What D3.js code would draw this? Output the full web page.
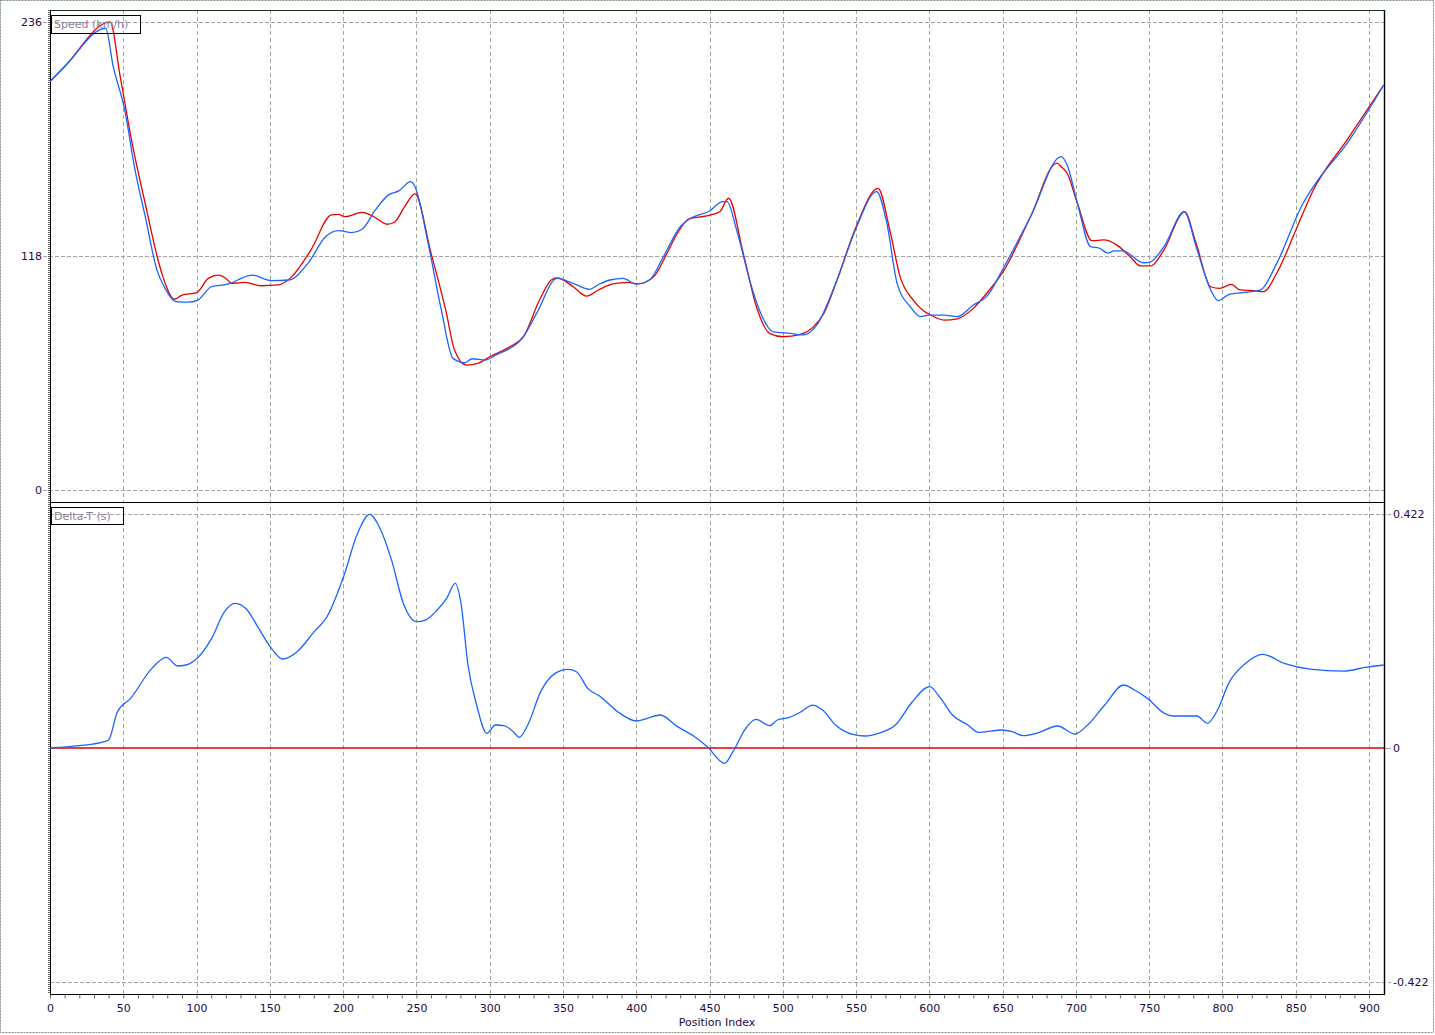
<!DOCTYPE html>
<html><head><meta charset="utf-8">
<script src="https://cdn.jsdelivr.net/npm/d3@7"></script>
<style>
html,body{margin:0;padding:0;background:#fff;}
svg text{font-family:"DejaVu Sans",Verdana,sans-serif;}
</style></head>
<body><svg id="c" width="1435" height="1035"></svg>
<script>
// ---- data ----
const redIdx = [0,10,41,48,56,66,73,77,85,90,100,108,115,120,124,133,144,156,165,178,192,197,201,213,221,230,235,242,249,260,270,276,284,292,300,314,323,334,342,346,357,366,375,384,394,401,412,421,428,436,448,457,463,473,482,491,500,512,521,528,537,550,565,573,580,589,596,601,610,619,630,641,651,669,687,690,694,701,711,719,728,737,744,751,760,774,782,792,798,806,812,821,828,837,851,862,885,910];
const redSpeed = [206,213.5,236,208,175,141,118,107.6,96.2,98.3,99.5,106.7,108.4,106.7,104.2,104.7,103,103.4,107.6,121,138.7,139,137.8,140,137.8,134,135,142.9,149.3,119.4,90.8,70.6,63,63.9,67.2,72.3,77.3,95.8,105.9,107,102.5,97.8,101.2,103.9,104.7,103.9,107.6,119.4,129.4,136.7,138.2,140.3,147.1,119.4,92.4,79,77.3,78.5,82.4,89.1,105.9,132.8,152.1,131.1,107.6,95.8,90.4,88.2,85.7,86.3,91.6,100.9,110.9,137.8,164.8,163,159.7,144.6,125.7,126.1,123.5,117.6,113,113,121,140.3,124.4,102.5,101.7,103.7,100.9,100.5,100,109.3,132.8,151.3,176.5,204.2];
const blueIdx = [0,10,38,43,51,58,65,73,78.5,86,94,101,110,122,128,138,151,163,176,188,197,206,213,222,231,238,246,249,258,267,275,283,288,297,304,323,332,346,357,368,375,382,391,400,409,418.5,430,437,450,459,462,468.5,478,484,493.5,505,514,523,537,550,564,571,578,587,594,600,610,619,630,639,651,669,690,694,701,710,716,722,726,732,746,751,760,774,782,792,797,805,814,826,837,855,862,885,910];
const blueSpeed = [206,213.5,232.8,214,191.6,161.4,137.8,110.9,101.7,95,94.7,95.8,102.5,103.9,105.9,108.4,105.6,105.9,114.3,127.7,130.8,129.8,131.5,141.2,148.8,150.8,155.5,153,124.4,90.8,66.4,64.2,66.2,65.6,68,77.3,89.1,106.7,104.2,101.2,103.9,105.9,106.7,103.9,105.9,117.6,132.8,137,140.7,145.4,145.4,131.1,104.2,90.8,79.8,79,78.2,83,105.9,132,150.4,134.5,104.2,92.4,87.4,88.2,88.2,87.4,93.3,97.5,112.6,137.8,168.1,163.9,144.6,122.7,121.9,119.4,120.6,120.6,114.6,115.1,122.7,140.3,122.7,100.9,95.5,98.8,99.5,100.9,114.3,144.6,153,174.8,204.2];
const deltaIdx = [0,20,37,40,46,55,69.5,79.4,87,92.8,100.4,110.3,119.1,126,133.6,142.4,151.1,158.7,168.6,180.3,189,200.7,209.4,218.1,225.2,232.7,241.5,250.2,256.1,263.6,270.6,276.5,280.6,285.2,291.1,298.1,303.9,309.7,316.1,320.2,326,334.8,344.7,353.4,359.2,366.9,375.6,387.3,400.1,407.6,416.4,428.1,439.8,448.5,460.2,466,474.7,481.7,491.1,496.3,503.9,512.6,520.2,527.2,536,547.6,556.4,565.1,576.8,588.4,600.1,607.7,615.8,626.3,633.3,649.6,656.6,664.2,673,687.6,699.2,708,719.6,732.5,740,748.8,760.4,766.3,782.6,789.7,796.6,804.2,815.8,827.5,842.1,859.6,882.9,897.5,910];
const deltaT = [0,0.0042,0.0114,0.0144,0.0655,0.0896,0.1436,0.1635,0.1479,0.1497,0.1617,0.1977,0.2458,0.2608,0.2518,0.2158,0.1797,0.1605,0.1737,0.2098,0.2368,0.3119,0.384,0.4213,0.396,0.342,0.2578,0.2278,0.2308,0.247,0.2698,0.2969,0.2578,0.1497,0.0775,0.0264,0.0415,0.0403,0.0294,0.0192,0.0415,0.1016,0.1346,0.1418,0.1376,0.1076,0.0926,0.0655,0.0487,0.0535,0.0595,0.0385,0.0204,0.0024,-0.0276,-0.0066,0.0355,0.0517,0.0403,0.0505,0.0547,0.0655,0.0775,0.0685,0.0415,0.0246,0.0216,0.0264,0.0415,0.0835,0.1106,0.0895,0.0595,0.0415,0.0282,0.0325,0.0294,0.0222,0.0264,0.0397,0.0252,0.0415,0.0775,0.1136,0.1046,0.0895,0.0625,0.0577,0.0577,0.0445,0.0685,0.1166,0.1527,0.1689,0.1527,0.1424,0.1388,0.1454,0.1497];
const speedTicks = [236,118,0];
const speedTickLabels = ["236","118","0"];
const deltaTicks = [0.422,0,-0.422];
const deltaTickLabels = ["0.422","0","-0.422"];
const xMajorTicks = [0,50,100,150,200,250,300,350,400,450,500,550,600,650,700,750,800,850,900];
const speedTitle = "Speed (km/h)";
const deltaTitle = "Delta-T (s)";
const xTitle = "Position Index";

// ---- layout ----
const L = 50, R = 1384, T1 = 10, B1 = 502, T2 = 502, B2 = 994;
const svg = d3.select("#c");
const x = d3.scaleLinear().domain([0, 910.2]).range([L, R]);
const y1 = d3.scaleLinear().domain([-6, 242]).range([B1, T1]);
const y2 = d3.scaleLinear().domain([-0.4437, 0.4437]).range([B2, T2]);
const tickCol = "#1c0c44";
const gridV = "#9aab9a", gridH = "#aaa2aa";

// outer border
svg.append("rect").attr("x",0.5).attr("y",0.5).attr("width",1433).attr("height",1032)
  .attr("fill","none").attr("stroke","#7f907f").attr("stroke-dasharray","2,1");

// vertical grid lines
svg.append("g").selectAll("line").data(xMajorTicks.filter(d=>d>0)).join("line")
  .attr("x1",d=>Math.round(x(d))+0.5).attr("x2",d=>Math.round(x(d))+0.5)
  .attr("y1",T1).attr("y2",B2)
  .attr("stroke",gridV).attr("stroke-dasharray","4,3");

// horizontal grid lines (extend a little left/right as tick marks)
svg.append("g").selectAll("line").data(speedTicks).join("line")
  .attr("x1",L-7).attr("x2",R)
  .attr("y1",d=>Math.round(y1(d))+0.5).attr("y2",d=>Math.round(y1(d))+0.5)
  .attr("stroke",gridH).attr("stroke-dasharray","4,2");
svg.append("g").selectAll("line").data(deltaTicks.filter(d=>d!==0)).join("line")
  .attr("x1",L).attr("x2",R+7)
  .attr("y1",d=>Math.round(y2(d))+0.5).attr("y2",d=>Math.round(y2(d))+0.5)
  .attr("stroke",gridH).attr("stroke-dasharray","4,2");
svg.append("line").attr("x1",R).attr("x2",R+7)
  .attr("y1",Math.round(y2(0))+0.5).attr("y2",Math.round(y2(0))+0.5).attr("stroke",gridH);

// tick labels
svg.append("g").selectAll("text").data(speedTicks).join("text")
  .attr("x",L-8).attr("y",(d)=>y1(d)+4).attr("text-anchor","end")
  .attr("font-size",11).attr("fill",tickCol).text((d,i)=>speedTickLabels[i]);
svg.append("g").selectAll("text").data(deltaTicks).join("text")
  .attr("x",R+9).attr("y",(d)=>y2(d)+4).attr("text-anchor","start")
  .attr("font-size",11).attr("fill",tickCol).text((d,i)=>deltaTickLabels[i]);

// red zero line
svg.append("line").attr("x1",L).attr("x2",R)
  .attr("y1",y2(0)).attr("y2",y2(0)).attr("stroke","#e00000").attr("stroke-width",1.3);

// frames
svg.append("line").attr("x1",L).attr("x2",R).attr("y1",T1+0.5).attr("y2",T1+0.5).attr("stroke","#1f2f1f");
svg.append("line").attr("x1",L).attr("x2",R).attr("y1",B1+0.5).attr("y2",B1+0.5).attr("stroke","#000");
svg.append("line").attr("x1",L).attr("x2",R+1).attr("y1",B2+0.5).attr("y2",B2+0.5).attr("stroke","#000");
svg.append("line").attr("x1",R+0.5).attr("x2",R+0.5).attr("y1",T1).attr("y2",B2+1).attr("stroke","#000").attr("stroke-width",1.4);
svg.append("line").attr("x1",L+0.5).attr("x2",L+0.5).attr("y1",T1).attr("y2",B2+1).attr("stroke","#000");
svg.append("line").attr("x1",L-1).attr("x2",L-1).attr("y1",T1).attr("y2",B2).attr("stroke","#000").attr("stroke-dasharray","1,1").attr("stroke-width",1.2);

// x axis
const xAxis = d3.axisBottom(x).tickValues(d3.range(0,901,10)).tickSize(4)
  .tickFormat(d => d % 50 === 0 ? d : "");
const gx = svg.append("g").attr("transform",`translate(0,${B2+0.5})`).call(xAxis);
gx.select(".domain").remove();
gx.selectAll("line").attr("stroke","#666");
gx.selectAll("text").attr("font-size",11).attr("fill",tickCol).attr("font-family","DejaVu Sans").attr("dy","0.95em");
svg.append("text").attr("x",(L+R)/2).attr("y",1026).attr("text-anchor","middle")
  .attr("font-size",11).attr("fill",tickCol).text(xTitle);

// lines
svg.append("clipPath").attr("id","cp1").append("rect").attr("x",L).attr("y",T1).attr("width",R-L).attr("height",B1-T1);
svg.append("clipPath").attr("id","cp2").append("rect").attr("x",L).attr("y",T2).attr("width",R-L).attr("height",B2-T2);
const line1 = d3.line().x(d=>x(d[0])).y(d=>y1(d[1])).curve(d3.curveMonotoneX);
const line2 = d3.line().x(d=>x(d[0])).y(d=>y2(d[1])).curve(d3.curveMonotoneX);
svg.append("path").attr("clip-path","url(#cp1)").attr("d",line1(d3.zip(redIdx,redSpeed)))
  .attr("fill","none").attr("stroke","#e80000").attr("stroke-width",1.3);
svg.append("path").attr("clip-path","url(#cp1)").attr("d",line1(d3.zip(blueIdx,blueSpeed)))
  .attr("fill","none").attr("stroke","#1a64ff").attr("stroke-width",1.3);
svg.append("path").attr("clip-path","url(#cp2)").attr("d",line2(d3.zip(deltaIdx,deltaT)))
  .attr("fill","none").attr("stroke","#1a64ff").attr("stroke-width",1.3);

// legend boxes
function box(x0,y0,w,h,t){
  svg.append("rect").attr("x",x0+0.5).attr("y",y0+0.5).attr("width",w).attr("height",h)
    .attr("fill","none").attr("stroke","#000");
  svg.append("text").attr("x",x0+3).attr("y",y0+13).attr("font-size",11).attr("fill","#8c7f99").text(t);
}
box(51,15,89,18,speedTitle);
box(51,507,72,17,deltaTitle);
</script></body></html>
